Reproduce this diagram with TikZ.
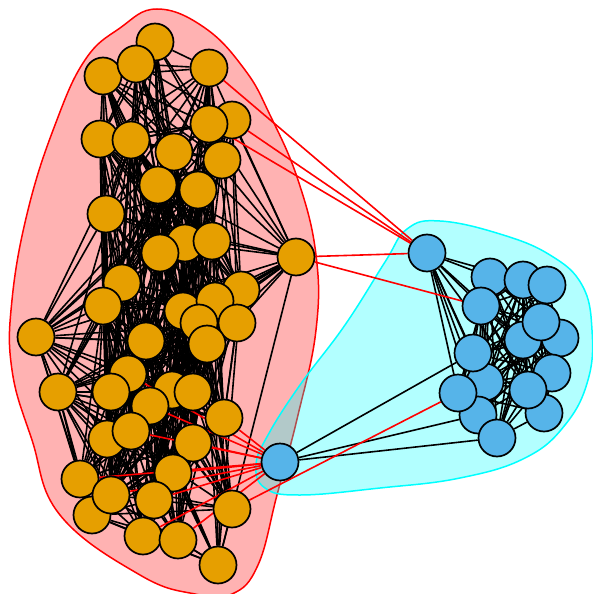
\documentclass[tikz,border=0pt]{standalone}
\usepackage{tikz}

\pgfdeclarelayer{hulls}
\pgfdeclarelayer{links}
\pgfsetlayers{hulls,links,main}

\definecolor{gold}{RGB}{230,159,0}
\definecolor{sky}{RGB}{86,180,233}
\definecolor{aqua}{RGB}{0,255,255}
\definecolor{pureRed}{RGB}{255,0,0}

\tikzset{
  vert/.style={draw,shape=circle,line width=1.7pt,minimum size=37pt,inner sep=0pt},
  onode/.style={vert,fill=gold},
  bnode/.style={vert,fill=sky},
  link/.style={line width=1.6pt},
  crosslink/.style={line width=1.6pt,pureRed},
}

\begin{document}
\begin{tikzpicture}[x=1pt,y=-1pt]
\useasboundingbox (0,0) rectangle (592,594);

% orange group
\foreach \i/\x/\y in {1/155/42, 3/103/76, 2/136/64, 4/209/68, 5/232/120, 6/209/124,
    7/100/139, 8/131/140, 9/174/152, 10/222/160, 11/158/185, 12/198/190,
    13/106/214, 14/185/243, 15/212/241, 16/160/253, 17/296/257, 18/122/283,
    19/103/306, 20/241/290, 22/183/311, 21/215/301, 23/199/323, 24/237/323,
    25/146/341, 26/207/344, 27/36/337, 28/128/374, 29/58/392, 30/111/392,
    31/172/390, 32/193/392, 33/150/406, 34/224/418, 35/107/439, 36/131/431,
    37/193/443, 38/80/479, 39/173/473, 41/92/515, 40/111/495, 42/154/500,
    43/232/509, 44/143/536, 45/178/540, 46/218/565}{
  \node (o\i) [onode] at (\x,\y) {};
  \expandafter\xdef\csname ox\i\endcsname{\x}
  \expandafter\xdef\csname oy\i\endcsname{\y}
}

% blue group
\foreach \i/\x/\y in {1/427/253, 2/490/277, 3/523/280, 4/547/285, 5/481/306,
    7/560/338, 8/523/340, 6/541/322, 10/552/373, 15/544/413, 12/528/390,
    11/485/382, 9/473/353, 14/478/415, 13/458/393, 16/497/438, 17/280/462}{
  \node (b\i) [bnode] at (\x,\y) {};
}

\pgfmathsetseed{11}
\begin{pgfonlayer}{links}
% links inside the orange group, fewer when far apart
\foreach \i in {1,...,45}{
  \pgfmathtruncatemacro\first{\i+1}
  \foreach \j in {\first,...,46}{
    \pgfmathsetmacro\dist{veclen(\csname ox\i\endcsname-\csname ox\j\endcsname,\csname oy\i\endcsname-\csname oy\j\endcsname)}
    \pgfmathtruncatemacro\hit{rnd<(0.85-\dist/480)}
    \ifnum\hit=1 \draw[link] (o\i) -- (o\j);\fi
  }
}
% links inside the blue group
\foreach \i in {2,...,15}{
  \pgfmathtruncatemacro\first{\i+1}
  \foreach \j in {\first,...,16}{
    \pgfmathtruncatemacro\hit{rnd<0.85}
    \ifnum\hit=1 \draw[link] (b\i) -- (b\j);\fi
  }
}
\foreach \j in {2,3,5,8,9,11,12,13,14,16}
  \draw[link] (b1) -- (b\j);
\foreach \j in {9,14,16}
  \draw[link] (b17) -- (b\j);

% links between the groups
\foreach \j in {4,5,6,17}
  \draw[crosslink] (b1) -- (o\j);
\draw[crosslink] (b5) -- (o17);
\draw[crosslink] (b13) -- (o43);
\foreach \j in {28,33,34,36,37,38,39,40,42,44,45}
  \draw[crosslink] (b17) -- (o\j);
\end{pgfonlayer}

% group outlines
\begin{pgfonlayer}{hulls}
\draw[pureRed,line width=1.5pt,fill=pureRed,fill opacity=0.3] plot[smooth cycle,tension=0.7] coordinates {
  (157,9) (205,28) (245,70) (270,115) (298,180) (316,255) (316,330) (298,415)
  (277,495) (258,565) (232,594) (195,594) (140,575) (60,515) (32,440) (12,370)
  (12,300) (28,210) (55,125) (85,60) (120,28)};
\draw[aqua,line width=1.5pt,fill=aqua,fill opacity=0.3] plot[smooth cycle,tension=0.7] coordinates {
  (407,229) (440,221) (500,234) (550,255) (582,285) (592,330) (588,380) (565,425)
  (525,458) (460,478) (380,488) (300,495) (265,488) (256,465) (268,435) (300,385)
  (345,325) (385,262)};
\end{pgfonlayer}

\end{tikzpicture}
\end{document}
